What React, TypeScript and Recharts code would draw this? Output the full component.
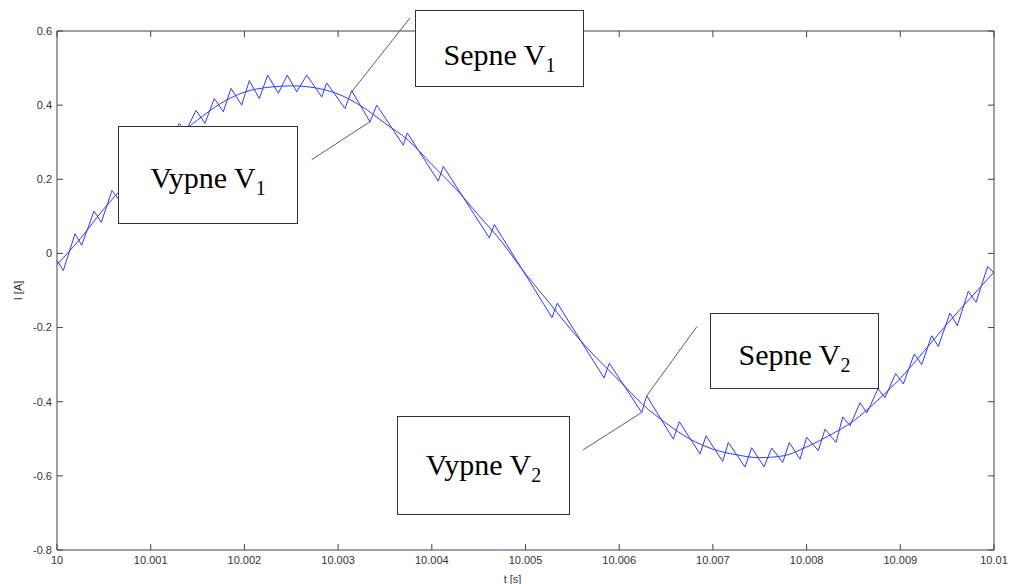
import { LineChart, Line, XAxis, YAxis, ReferenceLine } from "recharts"

const xTicks = [10, 10.001, 10.002, 10.003, 10.004, 10.005, 10.006, 10.007, 10.008, 10.009, 10.01]
const xTickLabels = ["10", "10.001", "10.002", "10.003", "10.004", "10.005", "10.006", "10.007", "10.008", "10.009", "10.01"]
const yTicks = [-0.8, -0.6, -0.4, -0.2, 0, 0.2, 0.4, 0.6]
const yTickLabels = ["-0.8", "-0.6", "-0.4", "-0.2", "0", "0.2", "0.4", "0.6"]

// reference current (smooth)
const sineT = [
  10, 10.00025, 10.0005, 10.00075, 10.001, 10.00125, 10.0015, 10.00175, 10.002, 10.00225,
  10.0025, 10.00275, 10.003, 10.00325, 10.0035, 10.00375, 10.004, 10.00425, 10.0045, 10.00475,
  10.005, 10.00525, 10.0055, 10.00575, 10.006, 10.00625, 10.0065, 10.00675, 10.007, 10.00725,
  10.0075, 10.00775, 10.008, 10.00825, 10.0085, 10.00875, 10.009, 10.00925, 10.0095, 10.00975,
  10.01,
]
const sineI = [
  -0.03, 0.04, 0.12, 0.19, 0.25, 0.31, 0.36, 0.405, 0.435, 0.448,
  0.452, 0.447, 0.43, 0.397, 0.351, 0.305, 0.24, 0.176, 0.103, 0.03,
  -0.055, -0.132, -0.21, -0.28, -0.343, -0.407, -0.458, -0.5, -0.528, -0.543,
  -0.551, -0.546, -0.522, -0.49, -0.452, -0.398, -0.337, -0.265, -0.19, -0.12,
  -0.05,
]

// switched current (ripple)
const rippleT = [
  10.0, 10.0000672, 10.0001921, 10.0002636, 10.0003949, 10.0004728, 10.000587, 10.000651, 10.0007684, 10.0008431,
  10.0009498, 10.0010245, 10.0011313, 10.001206, 10.0013052, 10.0013767, 10.0014835, 10.0015795, 10.0016788, 10.0017748,
  10.001857, 10.0019712, 10.0020523, 10.002159, 10.0022487, 10.0023618, 10.0024578, 10.0025582, 10.0026649, 10.002825,
  10.0028783, 10.0030736, 10.0031451, 10.0033404, 10.0034119, 10.0036958, 10.0037385, 10.0040694, 10.0041228, 10.0046137,
  10.004667, 10.0052828, 10.0053394, 10.0058378, 10.0058944, 10.0062401, 10.0062935, 10.0065774, 10.0066414, 10.0068623,
  10.0069264, 10.0071046, 10.0071644, 10.0073426, 10.007414, 10.0075453, 10.0076275, 10.007745, 10.0078154, 10.0079296,
  10.0080011, 10.0081249, 10.0081964, 10.0083138, 10.0083853, 10.0084632, 10.0085699, 10.0086446, 10.008762, 10.0088367,
  10.0089509, 10.009032, 10.0091494, 10.0092284, 10.0093351, 10.0094056, 10.0095304, 10.0096083, 10.0097258, 10.0098079,
  10.0099328, 10.01,
]
const rippleI = [
  -0.019, -0.046, 0.053, 0.022, 0.114, 0.084, 0.17, 0.148, 0.238, 0.211,
  0.284, 0.257, 0.322, 0.297, 0.351, 0.33, 0.386, 0.351, 0.418, 0.382,
  0.445, 0.4, 0.466, 0.418, 0.481, 0.432, 0.481, 0.436, 0.481, 0.422,
  0.46, 0.391, 0.439, 0.355, 0.4, 0.292, 0.325, 0.195, 0.235, 0.042,
  0.078, -0.173, -0.134, -0.336, -0.296, -0.429, -0.384, -0.501, -0.454, -0.541,
  -0.492, -0.561, -0.51, -0.576, -0.524, -0.576, -0.525, -0.564, -0.51, -0.555,
  -0.496, -0.532, -0.474, -0.51, -0.441, -0.465, -0.403, -0.43, -0.365, -0.389,
  -0.324, -0.352, -0.271, -0.3, -0.222, -0.251, -0.161, -0.195, -0.102, -0.132,
  -0.035, -0.053,
]

// annotation pointers, [from, to] in data units
const pointerT = [
  [10.003767, 10.003145],
  [10.002718, 10.00334],
  [10.00683, 10.006294],
  [10.005614, 10.00624],
]
const pointerI = [
  [0.635, 0.436],
  [0.253, 0.355],
  [-0.197, -0.384],
  [-0.53, -0.429],
]

const noteText = ["Sepne V", "Vypne V", "Sepne V", "Vypne V"]
const noteSub = ["1", "1", "2", "2"]
const noteBoxes = [
  { left: 415, top: 10, width: 169, height: 77, shift: 6 },
  { left: 118, top: 126, width: 180, height: 98, shift: 3 },
  { left: 710, top: 313, width: 169, height: 76, shift: 4 },
  { left: 397, top: 416, width: 173, height: 99, shift: -1 },
]

const sineData = sineT.map((t, i) => ({ t, i: sineI[i] }))
const rippleData = rippleT.map((t, i) => ({ t, i: rippleI[i] }))

const tMin = 10
const tMax = 10.01
const iMin = -0.8
const iMax = 0.6
// inward tick length (about 6px) in data units
const tickLenT = 0.000064
const tickLenI = 0.0162

const axisColor = "#444"
const font = "'Liberation Sans', Arial, sans-serif"
const tickStyle = { fill: "#333", fontSize: 11, fontFamily: font }

const fmtX = (v: number) => {
  const k = xTicks.findIndex((x) => Math.abs(x - v) < 1e-9)
  return k >= 0 ? xTickLabels[k] : String(v)
}
const fmtY = (v: number) => {
  const k = yTicks.findIndex((y) => Math.abs(y - v) < 1e-9)
  return k >= 0 ? yTickLabels[k] : String(v)
}

function NoteBox({ box, text, sub }: { box: any; text: string; sub: string }) {
  return (
    <div
      style={{
        position: "absolute",
        left: box.left,
        top: box.top,
        width: box.width,
        height: box.height,
        boxSizing: "border-box",
        border: "1px solid #333",
        background: "#fff",
        display: "flex",
        alignItems: "center",
        justifyContent: "center",
        fontFamily: "'Liberation Serif', 'Times New Roman', serif",
        fontSize: 30,
        color: "#000",
        whiteSpace: "nowrap",
      }}
    >
      <span style={{ position: "relative", top: box.shift }}>
        {text}
        <span style={{ fontSize: 20, position: "relative", top: 7 }}>{sub}</span>
      </span>
    </div>
  )
}

export default function App() {
  const tickSegs: any[] = []
  yTicks.forEach((v) => {
    tickSegs.push([{ x: tMin, y: v }, { x: tMin + tickLenT, y: v }])
    tickSegs.push([{ x: tMax, y: v }, { x: tMax - tickLenT, y: v }])
  })
  xTicks.forEach((v) => {
    tickSegs.push([{ x: v, y: iMin }, { x: v, y: iMin + tickLenI }])
    tickSegs.push([{ x: v, y: iMax }, { x: v, y: iMax - tickLenI }])
  })

  return (
    <div style={{ position: "absolute", left: 0, top: 0, width: 1010, height: 584, background: "#fff" }}>
      <LineChart width={1010} height={584} margin={{ top: 30, right: 0, bottom: 0, left: 0 }}>
        <XAxis
          dataKey="t"
          type="number"
          domain={[tMin, tMax]}
          ticks={xTicks}
          tickFormatter={fmtX}
          tickSize={0}
          tickMargin={6}
          tickLine={false}
          height={34}
          stroke={axisColor}
          tick={tickStyle}
          interval={0}
          label={{ value: "t [s]", position: "insideBottom", offset: 1, dx: -13, style: tickStyle }}
        />
        <XAxis
          xAxisId="top"
          orientation="top"
          dataKey="t"
          type="number"
          domain={[tMin, tMax]}
          ticks={xTicks}
          tickLine={false}
          height={1}
          stroke={axisColor}
          tick={false}
        />
        <YAxis
          type="number"
          domain={[iMin, iMax]}
          ticks={yTicks}
          tickFormatter={fmtY}
          tickSize={0}
          tickMargin={5}
          tickLine={false}
          width={57}
          stroke={axisColor}
          tick={tickStyle}
          interval={0}
          label={{
            value: "I [A]",
            angle: -90,
            position: "insideLeft",
            offset: 18,
            textAnchor: "middle",
            style: { ...tickStyle, textAnchor: "middle" },
          }}
        />
        <YAxis
          yAxisId="right"
          orientation="right"
          type="number"
          domain={[iMin, iMax]}
          ticks={yTicks}
          tickLine={false}
          width={16}
          stroke={axisColor}
          tick={false}
        />
        {tickSegs.map((seg, k) => (
          <ReferenceLine key={`tk${k}`} segment={seg} stroke={axisColor} strokeWidth={1} ifOverflow="visible" />
        ))}
        <Line
          data={sineData}
          dataKey="i"
          type="monotone"
          stroke="#3535ff"
          strokeWidth={1}
          dot={false}
          activeDot={false}
          isAnimationActive={false}
        />
        <Line
          data={rippleData}
          dataKey="i"
          type="linear"
          stroke="#3535ff"
          strokeWidth={1}
          dot={false}
          activeDot={false}
          isAnimationActive={false}
        />
        {pointerT.map((pt, k) => (
          <ReferenceLine
            key={k}
            segment={[
              { x: pt[0], y: pointerI[k][0] },
              { x: pt[1], y: pointerI[k][1] },
            ]}
            stroke="#333"
            strokeWidth={0.8}
            ifOverflow="visible"
          />
        ))}
      </LineChart>
      {noteBoxes.map((b, k) => (
        <NoteBox key={k} box={b} text={noteText[k]} sub={noteSub[k]} />
      ))}
    </div>
  )
}
